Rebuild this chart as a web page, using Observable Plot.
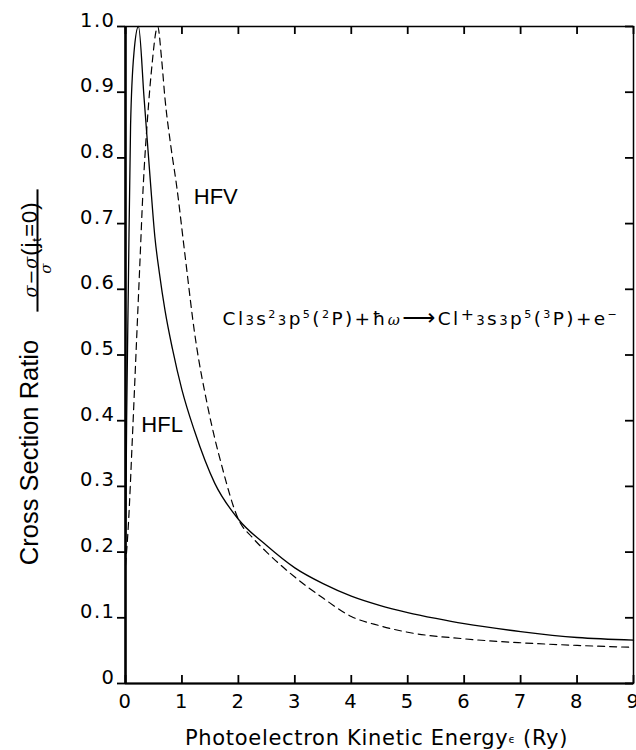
<!DOCTYPE html>
<html>
<head>
<meta charset="utf-8">
<script src="https://cdn.jsdelivr.net/npm/d3@7"></script>
<script src="https://cdn.jsdelivr.net/npm/@observablehq/plot@0.6"></script>
<style>
  html, body { margin: 0; padding: 0; background: #fff; }
  #chart svg { display: block; }
  g[aria-label="x-axis tick label"] text { letter-spacing: 1.5px; }
  g[aria-label="y-axis tick label"] text { letter-spacing: 1.5px; }
</style>
</head>
<body>
<div id="chart"></div>
<script>
// ---------- data ----------
const xTicks = [0, 1, 2, 3, 4, 5, 6, 7, 8, 9];
const yTicks = [0, 0.1, 0.2, 0.3, 0.4, 0.5, 0.6, 0.7, 0.8, 0.9, 1.0];
const yTickLabels = ["0", "0.1", "0.2", "0.3", "0.4", "0.5", "0.6", "0.7", "0.8", "0.9", "1.0"];

// HFL (solid)
const hflEnergy = [0, 0.02, 0.05, 0.09, 0.15, 0.23, 0.33, 0.44, 0.52, 0.60, 0.70, 0.83, 1.0, 1.22, 1.58, 2.0, 2.5, 3.0, 3.5, 4.0, 4.5, 5.0, 5.5, 6.0, 7.0, 8.0, 9.0];
const hflRatio  = [0.19, 0.40, 0.60, 0.85, 0.96, 1.0, 0.89, 0.765, 0.68, 0.625, 0.568, 0.51, 0.447, 0.385, 0.305, 0.25, 0.21, 0.176, 0.152, 0.133, 0.119, 0.108, 0.099, 0.091, 0.079, 0.070, 0.066];

// HFV (dashed)
const hfvEnergy = [0, 0.05, 0.12, 0.19, 0.25, 0.31, 0.39, 0.46, 0.57, 0.64, 0.70, 0.80, 0.91, 1.05, 1.23, 1.46, 1.71, 2.0, 2.25, 2.5, 3.0, 3.5, 4.0, 4.5, 5.0, 6.0, 7.0, 8.0, 9.0];
const hfvRatio  = [0.18, 0.24, 0.37, 0.51, 0.63, 0.75, 0.86, 0.933, 1.0, 0.95, 0.89, 0.82, 0.755, 0.655, 0.53, 0.42, 0.33, 0.25, 0.222, 0.2, 0.162, 0.13, 0.102, 0.088, 0.078, 0.068, 0.062, 0.058, 0.055];

// curve labels
const curveLabels = ["HFL", "HFV"];
const curveLabelEnergy = [0.28, 1.21];
const curveLabelRatio = [0.393, 0.741];

// reaction annotation
const reactionParts = [["Cl","n"],["3","sm"],["s","n"],["2","sup"],["3","sm"],["p","n"],["5","sup"],["(","n"],["2","sup"],["P)+ħ","n"],["ω","sig"],["⟶","arrow"],["Cl","n"],["+","supBig"],["3","sm"],["s","n"],["3","sm"],["p","n"],["5","sup"],["(","n"],["3","sup"],["P)+e","n"],["−","sup"]];
const reactionEnergy = [1.72];
const reactionRatio = [0.554];

// axis titles
const xTitleParts = [["Photoelectron Kinetic Energy","n"],["ϵ","eps"],[" (Ry)","n"]];
const yTitle = "Cross Section Ratio";
const numeratorParts = [["σ−σ","sig"],["(","n"],["j","n"],["t","sub"],["=0)","n"]];
const denominatorText = "σ";
const fractionBar = "\u00a0".repeat(22);

// ---------- layout ----------
const WIDTH = 636, HEIGHT = 750, MT = 26, MR = 3, MB = 67, ML = 125;
const FRAME_W = WIDTH - ML - MR, FRAME_H = HEIGHT - MT - MB, TICK = 8;

// ---------- build ----------
const styles = {
  n: {size: 1, shift: 0},
  sm: {size: 0.72, shift: 0},
  sup: {size: 0.6, shift: 0.42},
  supBig: {size: 0.85, shift: 0.3},
  sub: {size: 0.62, shift: -0.2},
  eps: {size: 0.5, shift: 0.1},
  sig: {size: 0.8, shift: 0, family: "DejaVu Serif", italic: true},
  arrow: {size: 1.25, shift: 0}
};
const plain = parts => parts.map(p => p[0]).join("");
function richHTML(parts, base) {
  let prev = 0, html = "";
  for (const [t, kind] of parts) {
    const st = styles[kind];
    const size = base * st.size, shift = base * st.shift;
    const dy = -(shift - prev);
    prev = shift;
    html += `<tspan font-size="${size}"` +
      (dy ? ` dy="${dy.toFixed(2)}"` : "") +
      (st.family ? ` font-family="${st.family}"` : "") +
      (st.italic ? ` font-style="italic"` : "") + `>${t}</tspan>`;
  }
  return html;
}

const hfl = hflEnergy.map((x, i) => ({x, y: hflRatio[i]}));
const hfv = hfvEnergy.map((x, i) => ({x, y: hfvRatio[i]}));
const labels = curveLabels.map((t, i) => ({t, x: curveLabelEnergy[i], y: curveLabelRatio[i]}));
const reaction = [{t: plain(reactionParts), x: reactionEnergy[0], y: reactionRatio[0]}];
const fmtY = d => yTickLabels[yTicks.indexOf(d)];

const tickStyle = {stroke: "black", strokeWidth: 1.8};
const REACTION_SIZE = 18.5, XTITLE_SIZE = 21, NUM_SIZE = 22;

const plot = Plot.plot({
  width: WIDTH,
  height: HEIGHT,
  marginLeft: ML,
  marginRight: MR,
  marginTop: MT,
  marginBottom: MB,
  style: {background: "white", color: "black", fontFamily: "'DejaVu Sans', sans-serif", overflow: "visible"},
  x: {domain: [0, 9], label: null},
  y: {domain: [0, 1], label: null},
  marks: [
    Plot.frame({stroke: "black", strokeWidth: 1.5}),
    Plot.ruleX([0], {stroke: "black", strokeWidth: 2.5}),
    Plot.ruleY([0], {stroke: "black", strokeWidth: 2}),
    // ticks: inward on bottom/top/right, outward on left
    Plot.ruleX(xTicks, {x: d => d, insetTop: FRAME_H - TICK, ...tickStyle}),
    Plot.ruleX(xTicks, {x: d => d, insetBottom: FRAME_H - TICK, ...tickStyle}),
    Plot.ruleY(yTicks, {y: d => d, insetLeft: -TICK, insetRight: FRAME_W, ...tickStyle}),
    Plot.ruleY(yTicks, {y: d => d, insetLeft: FRAME_W - TICK, ...tickStyle}),
    // tick labels
    Plot.axisX(xTicks, {anchor: "bottom", tickSize: 0, tickPadding: 11, fontSize: 19.5, fontFamily: "DejaVu Sans", fill: "black"}),
    Plot.axisY(yTicks, {anchor: "left", tickSize: 0, tickPadding: 10, lineAnchor: "bottom", tickFormat: fmtY, fontSize: 19.5, fontFamily: "DejaVu Sans", fill: "black"}),
    // curves
    Plot.line(hfl, {x: "x", y: "y", curve: "monotone-x", stroke: "black", strokeWidth: 1.3}),
    Plot.line(hfv, {x: "x", y: "y", curve: "monotone-x", stroke: "black", strokeWidth: 1.2, strokeDasharray: "7,5"}),
    // labels
    Plot.text(labels, {x: "x", y: "y", text: "t", textAnchor: "start", lineAnchor: "middle", fontSize: 22, fontFamily: "Liberation Sans", fill: "black"}),
    Plot.text(reaction, {x: "x", y: "y", text: "t", textAnchor: "start", lineAnchor: "middle", fontSize: REACTION_SIZE, fontFamily: "DejaVu Sans", fill: "black"}),
    // axis titles
    Plot.text([plain(xTitleParts)], {frameAnchor: "bottom", textAnchor: "middle", dx: -3, dy: 55, lineAnchor: "middle", fontSize: XTITLE_SIZE, fontFamily: "DejaVu Sans", fill: "black"}),
    Plot.text([yTitle], {frameAnchor: "left", textAnchor: "middle", rotate: -90, dx: -88, dy: 97.5, lineAnchor: "bottom", fontSize: 25.5, fontFamily: "Liberation Sans", fill: "black"}),
    Plot.text([plain(numeratorParts)], {frameAnchor: "left", textAnchor: "middle", rotate: -90, dx: -89, dy: -105.5, lineAnchor: "bottom", fontSize: NUM_SIZE, fontFamily: "Liberation Sans", fill: "black"}),
    Plot.text([fractionBar], {frameAnchor: "left", textAnchor: "middle", rotate: -90, dx: -90, dy: -104.5, lineAnchor: "bottom", fontSize: 20, fontFamily: "Liberation Sans", fill: "black"}),
    Plot.text([denominatorText], {frameAnchor: "left", textAnchor: "middle", rotate: -90, dx: -75, dy: -86.5, lineAnchor: "bottom", fontSize: 15, fontFamily: "DejaVu Serif", fontStyle: "italic", fill: "black"})
  ]
});

// rich text (superscripts / subscripts) as real tspans
const rich = new Map([
  [plain(reactionParts), {html: richHTML(reactionParts, REACTION_SIZE), ls: "2.4px"}],
  [plain(xTitleParts), {html: richHTML(xTitleParts, XTITLE_SIZE), ls: "0.7px"}],
  [plain(numeratorParts), {html: richHTML(numeratorParts, NUM_SIZE), ls: "1px"}]
]);
d3.select(plot).selectAll("text").each(function () {
  const r = rich.get(this.textContent);
  if (r) {
    this.innerHTML = r.html;
    this.style.letterSpacing = r.ls;
  }
  if (this.textContent === fractionBar) this.style.textDecoration = "underline";
});

document.getElementById("chart").appendChild(plot);
</script>
</body>
</html>
